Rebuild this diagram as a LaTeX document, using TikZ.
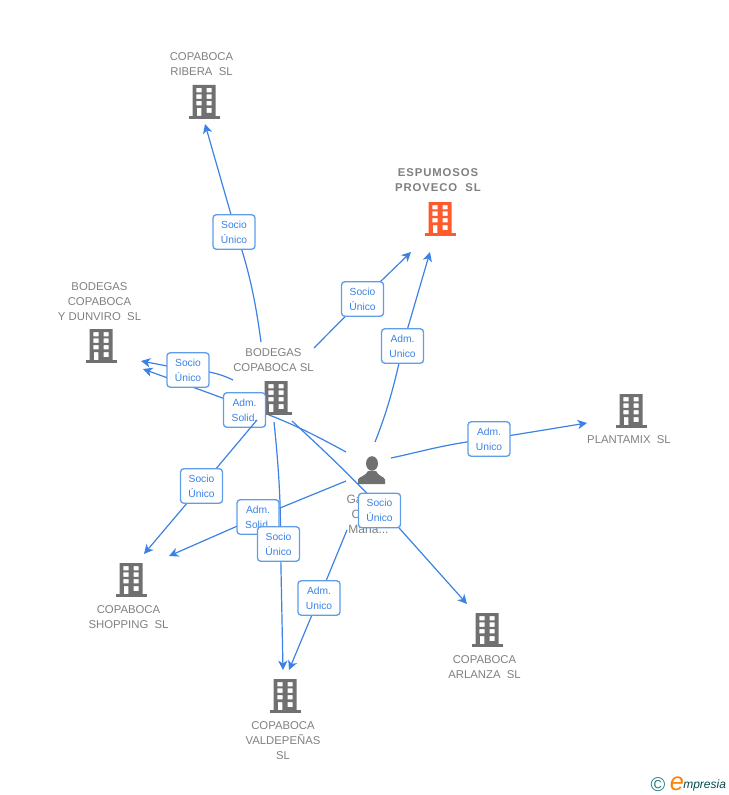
\documentclass[tikz,border=0pt]{standalone}
\usepackage{fontspec}
\setmainfont{Liberation Sans}
\usetikzlibrary{arrows.meta,calc}
\definecolor{wireblue}{HTML}{3B82E4}
\definecolor{boxblue}{HTML}{5F9DEB}
\definecolor{txtgray}{HTML}{808080}
\definecolor{icongray}{HTML}{707070}
\definecolor{iconorange}{HTML}{FF5A2B}
\pgfdeclarelayer{wires}
\pgfdeclarelayer{low}
\pgfdeclarelayer{mid}
\pgfsetlayers{wires,low,mid,main}
\tikzset{
  x=0.75pt,y=-0.75pt,
  wire/.style={draw=wireblue,line width=0.9pt,-{Stealth[length=7pt,width=7pt,inset=2pt]}},
  tagbox/.style={draw=boxblue,line width=1pt,rounded corners=2.4pt,fill=white,minimum width=31.5pt,minimum height=25.8pt,inner sep=0pt,align=center,text=wireblue,font=\fontsize{7.7}{11.25}\selectfont},
  nametxt/.style={text=txtgray,align=center,inner sep=0pt,font=\fontsize{8.5}{11.25}\selectfont},
  iconbox/.style={inner sep=0pt,minimum width=24pt,minimum height=25pt},
  pics/building/.style={code={
    \fill[even odd rule]
      (-11.5,-16) rectangle (11.5,15)
      (-7.7,-13) rectangle (-2.4,-8.6) (2.7,-13) rectangle (7.7,-8.6)
      (-7.7,-6.6) rectangle (-2.4,-2.2) (2.7,-6.6) rectangle (7.7,-2.2)
      (-7.7,0) rectangle (-2.4,4.4) (2.7,0) rectangle (7.7,4.4)
      (-7.2,7) rectangle (-2.6,15) (2.7,7) rectangle (7.7,12);
    \fill (-15.5,15) rectangle (15.5,17.7);
  }},
}
\begin{document}
\begin{tikzpicture}
\useasboundingbox (0,0) rectangle (728,795);
% icons
\begin{pgfonlayer}{low}
\node[iconbox] (rib) at (204,101) {};
\node[iconbox] (esp) at (440,218) {};
\node[iconbox] (dun) at (101,345) {};
\node[iconbox] (bod) at (276,397) {};
\node[iconbox] (pla) at (631,410) {};
\node[iconbox] (sho) at (131,579) {};
\node[iconbox] (arl) at (487,629) {};
\node[iconbox] (val) at (285,695) {};
\node[iconbox] (per) at (371,470) {};
\foreach \n in {rib,dun,bod,pla,sho,arl,val}
  \pic[icongray] at (\n) {building};
\pic[iconorange] at (esp) {building};
\fill[icongray] (per) ++(1,-6.5) ellipse (6 and 7.3);
\fill[icongray] ($(per)+(-13,14)$) -- ($(per)+(-13,9.5)$) .. controls ($(per)+(-12,6.5)$) and ($(per)+(-5,6)$) .. ($(per)+(-3,1)$) -- ($(per)+(5,1)$) .. controls ($(per)+(7,6)$) and ($(per)+(13,6.5)$) .. ($(per)+(14,9.5)$) -- ($(per)+(14,14)$) -- cycle;
% names
\node[nametxt] (trib) at (201.5,64) {COPABOCA\\RIBERA\ \ SL};
\node[nametxt,font=\fontsize{8.5}{11.25}\selectfont\bfseries\addfontfeature{LetterSpace=8}] (tesp) at (438,180) {ESPUMOSOS\\PROVECO\ \ SL};
\node[nametxt] (tdun) at (99.5,302) {BODEGAS\\COPABOCA\\Y DUNVIRO\ \ SL};
\node[nametxt] (tbod) at (273.5,360) {BODEGAS\\COPABOCA SL};
\node[nametxt] (tpla) at (629,440) {PLANTAMIX\ \ SL};
\node[nametxt] (tsho) at (128.5,617) {COPABOCA\\SHOPPING\ \ SL};
\node[nametxt] (tarl) at (484.5,667) {COPABOCA\\ARLANZA\ \ SL};
\node[nametxt] (tval) at (283,740.5) {COPABOCA\\VALDEPEÑAS\\SL};
\node[nametxt,font=\fontsize{9}{11.25}\selectfont] (tper) at (368.5,514.5) {Ga\makebox[21pt]{}\\C\makebox[19pt]{}\\Mana...};
\node[tagbox] (l6) at (244.5,410) {Adm.\\Solid.};
\end{pgfonlayer}
% labels
\node[tagbox] (l8) at (258,517) {Adm.\\Solid.};
\node[tagbox] (l1) at (234,232) {Socio\\Único};
\node[tagbox] (l2) at (362.5,299) {Socio\\Único};
\node[tagbox] (l3) at (402.5,346) {Adm.\\Unico};
\node[tagbox] (l4) at (489,439) {Adm.\\Unico};
\node[tagbox] (l5) at (188,370) {Socio\\Único};
\node[tagbox] (l7) at (201.5,486) {Socio\\Único};
\node[tagbox] (l9) at (278.5,544) {Socio\\Único};
\node[tagbox] (l10) at (319,598) {Adm.\\Unico};
\node[tagbox] (l11) at (379.5,510.5) {Socio\\Único};
% connectors
\begin{pgfonlayer}{wires}
\draw[wire] ($(bod)+(-15,-55)$) .. controls ($(bod)+(-21,-100)$) and ($(bod)+(-28,-130)$) .. ($(l1)+(2,0)$) -- ($(rib)+(1,23)$);
\draw[wire] ($(bod)+(38,-49)$) -- (l2.center) -- ($(esp)+(-29,34)$);
\draw[wire] ($(per)+(4,-28)$) .. controls ($(per)+(16,-58)$) and ($(per)+(25,-90)$) .. (l3.center) -- ($(esp)+(-10,34)$);
\draw[wire] ($(per)+(20,-12)$) .. controls ($(per)+(49,-18)$) and ($(per)+(74,-26)$) .. (l4.center) -- ($(pla)+(-44,13)$);
\draw[wire] ($(bod)+(-43,-17)$) .. controls ($(bod)+(-55,-23)$) and ($(bod)+(-70,-27)$) .. (l5.center) -- ($(dun)+(40,16)$);
\draw[wire] ($(per)+(-25,-18)$) .. controls ($(per)+(-56,-35)$) and ($(per)+(-85,-50)$) .. ($(l6)+(0,-4)$) -- ($(dun)+(42,24)$);
\draw[wire] ($(per)+(-25,11)$) -- (l8.center) -- ($(sho)+(38,-23)$);
\draw[wire] ($(bod)+(-2,25)$) .. controls ($(bod)+(2,63)$) and ($(bod)+(5,103)$) .. ($(l9)+(2,0)$) -- ($(val)+(-2,-25)$);
\draw[wire] ($(per)+(-24,60)$) -- (l10.center) -- ($(val)+(4,-25)$);
\draw[wire] ($(bod)+(16,24)$) .. controls ($(bod)+(44,50)$) and ($(bod)+(69,73)$) .. ($(l11)+(4,0)$) -- ($(arl)+(-20,-25)$);
\end{pgfonlayer}
\begin{pgfonlayer}{mid}
\draw[wire] ($(bod)+(-19,23)$) -- (l7.center) -- ($(sho)+(13,-25)$);
\end{pgfonlayer}
% logo
\node[inner sep=0pt,text=teal!70!gray,font=\fontsize{15}{15}\selectfont] (lc) at (658,785) {©};
\node[inner sep=0pt,text=orange,font=\fontsize{19}{19}\selectfont\itshape] (le) at (677,784) {e};
\node[inner sep=0pt,anchor=west,text=teal!60!black,font=\fontsize{9}{9}\selectfont\itshape] (lm) at (683,785) {mpresia};
\end{tikzpicture}
\end{document}
